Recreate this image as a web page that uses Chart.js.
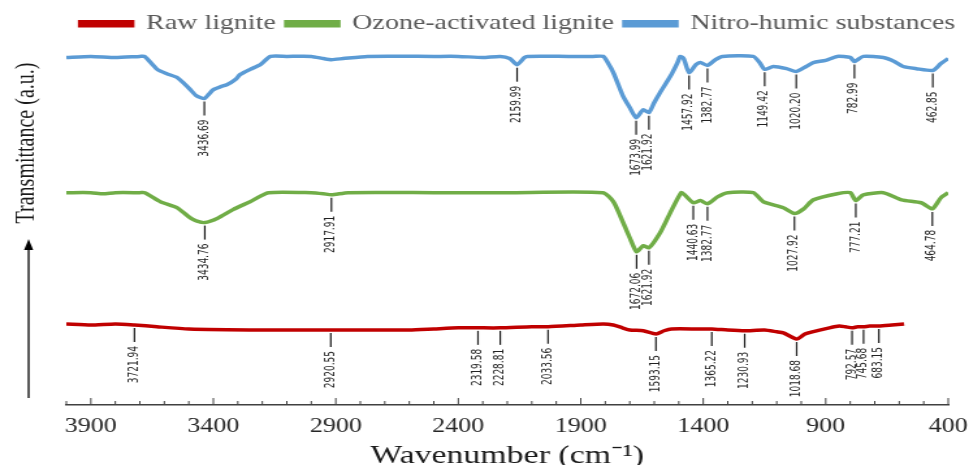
<!DOCTYPE html>
<html>
<head>
<meta charset="utf-8">
<script src="https://cdn.jsdelivr.net/npm/chart.js@4"></script>
<style>
  html, body { margin: 0; padding: 0; background: #fff; overflow: hidden; }
  #wrap { position: absolute; left: 0; top: 0; width: 745px; height: 465px; transform: scaleX(1.3007); transform-origin: 0 0; }
</style>
</head>
<body>
<div id="wrap"><canvas id="ftir"></canvas></div>
<script>
// x tick labels (wavenumber, cm-1)
const xTickLabels = [3900, 3400, 2900, 2400, 1900, 1400, 900, 400];

// Raw lignite
const rawWn = [4000, 3900, 3800, 3721.94, 3630, 3500, 3200, 3000, 2920.55, 2600, 2500, 2400, 2319.58, 2228.81, 2100, 2033.56, 1900, 1808, 1767, 1730, 1700, 1645, 1593.15, 1560, 1530, 1420, 1365.22, 1300, 1230.93, 1150, 1100, 1073, 1018.68, 985, 955, 885, 845, 820, 792.57, 770, 745.68, 720, 683.15, 630, 580];
const rawT = [22.5, 22.2, 22.5, 22.2, 21.7, 21.1, 20.8, 20.8, 20.8, 20.8, 21.1, 21.4, 21.4, 21.4, 21.7, 21.7, 22.2, 22.5, 22.2, 21.4, 20.8, 20.6, 19.7, 20.6, 21.1, 21.1, 21.1, 20.8, 20.6, 20.8, 20.3, 20.0, 18.3, 19.7, 20.3, 21.4, 21.9, 21.7, 21.4, 21.7, 21.7, 21.9, 21.9, 22.2, 22.5];
const rawPeaks = ["3721.94", "2920.55", "2319.58", "2228.81", "2033.56", "1593.15", "1365.22", "1230.93", "1018.68", "792.57", "745.68", "683.15"];

// Ozone-activated lignite
const ozoneWn = [4000, 3900, 3850, 3800, 3700, 3680, 3616, 3547, 3494, 3470, 3434.76, 3380, 3320, 3250, 3175, 3000, 2950, 2917.91, 2850, 2500, 2200, 1810, 1767, 1727, 1700, 1672.06, 1645, 1621.92, 1576, 1535, 1490, 1476, 1440.63, 1412, 1382.77, 1340, 1300, 1196, 1155, 1073, 1027.92, 990, 951, 853, 800, 777.21, 747, 665, 590, 510, 464.78, 430, 400];
const ozoneT = [58.9, 58.9, 58.6, 58.9, 58.9, 58.9, 56.4, 54.7, 51.9, 51.1, 50.6, 51.9, 54.2, 56.4, 58.9, 58.9, 58.6, 58.3, 58.9, 58.9, 58.9, 58.9, 56.4, 50.6, 46.4, 42.5, 44.2, 43.6, 47.8, 53.3, 58.9, 58.3, 56.1, 56.7, 55.8, 57.8, 58.9, 58.9, 56.4, 54.7, 53.1, 54.4, 56.9, 58.6, 58.9, 56.7, 58.3, 58.9, 56.9, 56.1, 54.4, 57.5, 58.9];
const ozonePeaks = ["3434.76", "2917.91", "1672.06", "1621.92", "1440.63", "1382.77", "1027.92", "777.21", "464.78"];

// Nitro-humic substances
const nitroWn = [4000, 3900, 3800, 3700, 3680, 3629, 3590, 3547, 3520, 3494, 3470, 3436.69, 3420, 3400, 3370, 3343, 3310, 3290, 3250, 3208, 3167, 3100, 3000, 2950, 2917, 2870, 2771, 2500, 2400, 2300, 2229, 2190, 2159.99, 2130, 2118, 1950, 1850, 1808, 1790, 1767, 1727, 1700, 1673.99, 1645, 1621.92, 1600, 1576, 1535, 1505, 1494, 1480, 1457.92, 1430, 1412, 1382.77, 1350, 1322, 1196, 1170, 1149.42, 1114, 1060, 1020.2, 980, 951, 900, 853, 800, 782.99, 747, 665, 620, 584, 530, 462.85, 430, 400];
const nitroT = [96.4, 96.7, 96.4, 96.7, 96.7, 93.1, 91.9, 90.8, 89.2, 87.5, 85.8, 85.0, 86.1, 87.5, 88.3, 88.9, 90.3, 91.7, 93.1, 94.4, 96.7, 96.7, 96.7, 96.1, 95.8, 96.1, 96.7, 96.7, 96.7, 96.4, 96.7, 96.1, 94.4, 96.4, 96.7, 96.7, 96.7, 96.7, 95.0, 92.2, 85.6, 82.5, 79.7, 81.9, 81.1, 83.9, 86.7, 91.1, 95.0, 96.7, 96.1, 92.2, 94.4, 95.0, 94.2, 95.8, 96.7, 96.7, 95.0, 93.1, 93.9, 93.3, 92.5, 93.9, 95.0, 95.6, 96.7, 96.4, 95.3, 96.7, 96.4, 95.3, 93.9, 93.3, 92.8, 94.7, 96.1];
const nitroPeaks = ["3436.69", "2159.99", "1673.99", "1621.92", "1457.92", "1382.77", "1149.42", "1020.20", "782.99", "462.85"];

function toPoints(wn, t) {
  return wn.map((w, i) => ({ x: w, y: t[i] }));
}

// linear lookup of a series value at a wavenumber (data sorted high -> low)
function valueAt(points, wn) {
  for (let i = 0; i < points.length - 1; i++) {
    const a = points[i], b = points[i + 1];
    if (wn <= a.x && wn >= b.x) {
      const t = (a.x - wn) / (a.x - b.x);
      return a.y + (b.y - a.y) * t;
    }
  }
  return points[points.length - 1].y;
}

const extras = {
  id: "extras",
  afterDraw(chart) {
    const { ctx, scales: { x, y } } = chart;
    ctx.save();

    // tick marks pointing up from the axis
    ctx.strokeStyle = "#404040";
    ctx.lineWidth = 1;
    for (let w = 400; w <= 4000; w += 100) {
      const px = x.getPixelForValue(w);
      const len = xTickLabels.includes(w) ? 7 : 4;
      ctx.beginPath();
      ctx.moveTo(px, x.top);
      ctx.lineTo(px, x.top - len);
      ctx.stroke();
    }

    // peak markers + labels
    ctx.strokeStyle = "#1a1a1a";
    ctx.lineWidth = 1.2;
    ctx.fillStyle = "#222";
    ctx.font = '10px "Liberation Sans Narrow", "Arial Narrow", "DejaVu Sans Condensed", sans-serif';
    chart.data.datasets.forEach((ds) => {
      ds.peaks.forEach((p) => {
        const wn = parseFloat(p);
        const px = x.getPixelForValue(wn);
        const py = y.getPixelForValue(valueAt(ds.data, wn));
        ctx.beginPath();
        ctx.moveTo(px, py + 3);
        ctx.lineTo(px, py + 17);
        ctx.stroke();
        ctx.save();
        ctx.translate(px, py + 21);
        ctx.rotate(-Math.PI / 2);
        ctx.textAlign = "right";
        ctx.textBaseline = "middle";
        ctx.fillText(p, 0, 0);
        ctx.restore();
      });
    });

    // y arrow
    ctx.strokeStyle = "#000";
    ctx.fillStyle = "#000";
    ctx.lineWidth = 1.3;
    ctx.beginPath();
    ctx.moveTo(22, 398);
    ctx.lineTo(22, 248);
    ctx.stroke();
    ctx.beginPath();
    ctx.moveTo(22, 239);
    ctx.lineTo(18.5, 250);
    ctx.lineTo(25.5, 250);
    ctx.closePath();
    ctx.fill();

    // y title
    ctx.save();
    ctx.translate(21, 143);
    ctx.rotate(-Math.PI / 2);
    ctx.textAlign = "center";
    ctx.textBaseline = "middle";
    ctx.font = '20px "Liberation Serif", serif';
    ctx.fillStyle = "#1a1a1a";
    ctx.fillText("Transmittance (a.u.)", 0, 0);
    ctx.restore();

    ctx.restore();
  }
};

const series = [
  { label: "Raw lignite", wn: rawWn, t: rawT, peaks: rawPeaks, color: "#C00000" },
  { label: "Ozone-activated lignite", wn: ozoneWn, t: ozoneT, peaks: ozonePeaks, color: "#70AD47" },
  { label: "Nitro-humic substances", wn: nitroWn, t: nitroT, peaks: nitroPeaks, color: "#5B9BD5" }
];

new Chart(document.getElementById("ftir").getContext("2d"), {
  type: "line",
  data: {
    datasets: series.map((s) => ({
      label: s.label,
      data: toPoints(s.wn, s.t),
      peaks: s.peaks,
      borderColor: s.color,
      backgroundColor: s.color,
      borderWidth: 3.5,
      pointRadius: 0,
      tension: 0.2,
      fill: false
    }))
  },
  options: {
    responsive: true,
    maintainAspectRatio: false,
    animation: false,
    layout: { padding: { left: 51, right: 0, top: 5, bottom: 0 } },
    plugins: {
      tooltip: { enabled: false },
      legend: {
        position: "top",
        labels: {
          boxWidth: 40,
          boxHeight: 4,
          padding: 8,
          color: "#595959",
          font: { family: "Liberation Serif", size: 21.5 }
        }
      }
    },
    scales: {
      x: {
        type: "linear",
        reverse: true,
        min: 400,
        max: 4000,
        afterFit: (scale) => { scale.height = 60; scale.paddingRight = 16; },
        grid: { display: false, drawTicks: false, tickLength: 0 },
        border: { display: true, color: "#404040", width: 1.5 },
        ticks: {
          stepSize: 100,
          autoSkip: false,
          maxRotation: 0,
          padding: 10,
          color: "#262626",
          font: { family: "Liberation Serif", size: 20 },
          callback: (v) => (xTickLabels.includes(v) ? String(v) : "")
        },
        title: {
          display: true,
          text: "Wavenumber (cm⁻¹)",
          color: "#1a1a1a",
          padding: { top: 0, bottom: -4 },
          font: { family: "Liberation Serif", size: 26, lineHeight: 1 }
        }
      },
      y: { display: false, min: 0, max: 100 }
    }
  },
  plugins: [extras]
});
</script>
</body>
</html>
